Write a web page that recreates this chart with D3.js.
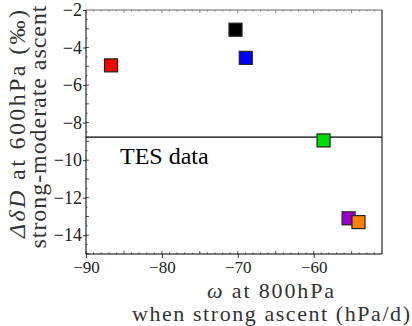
<!DOCTYPE html>
<html>
<head>
<meta charset="utf-8">
<script src="https://cdn.jsdelivr.net/npm/d3@7"></script>
<style>
  body { margin: 0; background: #fff; }
  svg text { font-family: "Liberation Serif", "DejaVu Serif", serif; }
</style>
</head>
<body>
<svg id="chart" width="412" height="326"></svg>
<script>
// values
var omega = [-86.7, -70.3, -68.95, -58.7, -55.4, -54.1];
var deltaD = [-4.95, -3.05, -4.55, -8.95, -13.1, -13.3];
var colors = ["#ff0000", "#000000", "#0000ff", "#00dd00", "#9900cc", "#ff8000"];
var refLine = [-8.77];
var xTicks = [-90, -80, -70, -60];
var yTicks = [-2, -4, -6, -8, -10, -12, -14];

var margin = {left: 86, right: 30, top: 10, bottom: 72};
var width = 412, height = 326;
var serif = "'Liberation Serif', 'DejaVu Serif', serif";

var svg = d3.select("#chart");

var x = d3.scaleLinear().domain([-90, -51]).range([margin.left, width - margin.right]);
var y = d3.scaleLinear().domain([-15, -2]).range([height - margin.bottom, margin.top]);

var x0 = x.range()[0], x1 = x.range()[1];
var y0 = y.range()[0], y1 = y.range()[1];

// tiny ticks along the frame
var g = svg.append("g");
d3.range(-90, -51, 1).forEach(function(v) {
	var len = (v % 5 == 0) ? 3 : 1.5;
	g.append("line").attr("x1", x(v)).attr("x2", x(v)).attr("y1", y0).attr("y2", y0 - len).attr("stroke", "#555");
	g.append("line").attr("x1", x(v)).attr("x2", x(v)).attr("y1", y1).attr("y2", y1 + len).attr("stroke", "#888");
});
d3.range(-15, -2, 0.5).forEach(function(v) {
	var len = (v % 1 == 0) ? 3 : 1.5;
	g.append("line").attr("y1", y(v)).attr("y2", y(v)).attr("x1", x0).attr("x2", x0 + len).attr("stroke", "#555");
});

// axes
var xAxis = d3.axisBottom(x).tickValues(xTicks).tickSize(4)
	.tickFormat(function(d) { return "\u2212" + Math.abs(d); });
var yAxis = d3.axisLeft(y).tickValues(yTicks).tickSize(3)
	.tickFormat(function(d) { return "\u2212" + Math.abs(d); });

var gx = svg.append("g").attr("transform", "translate(0," + y0 + ")").call(xAxis)
	.attr("font-family", serif);
gx.select(".domain").remove();
gx.selectAll("line").attr("stroke", "#333");
gx.selectAll("text").attr("y", 6).attr("dy", "0.75em")
	.style("font-family", serif).style("font-size", "17px").style("fill", "#222");

var gy = svg.append("g").attr("transform", "translate(" + x0 + ",0)").call(yAxis)
	.attr("font-family", serif);
gy.select(".domain").remove();
gy.selectAll("line").attr("stroke", "#333");
gy.selectAll("text").attr("x", -4)
	.style("font-family", serif).style("font-size", "18px").style("fill", "#222");

// frame
svg.append("line").attr("x1", x0).attr("x2", x0).attr("y1", y0).attr("y2", y1).attr("stroke", "#000");
svg.append("line").attr("x1", x0).attr("x2", x1).attr("y1", y0).attr("y2", y0).attr("stroke", "#000");
svg.append("line").attr("x1", x1).attr("x2", x1).attr("y1", y0).attr("y2", y1).attr("stroke", "#000");
svg.append("line").attr("x1", x0).attr("x2", x1).attr("y1", y1).attr("y2", y1).attr("stroke", "#666");

// reference line
svg.selectAll(".ref").data(refLine).enter().append("line")
	.attr("x1", x0).attr("x2", x1)
	.attr("y1", function(d) { return y(d); }).attr("y2", function(d) { return y(d); })
	.attr("stroke", "#000").attr("stroke-width", 1.2);

svg.append("text").attr("x", 120).attr("y", 164)
	.style("font-size", "24px").text("TES data");

// markers
var s = 13;
svg.selectAll(".pt").data(omega).enter().append("rect")
	.attr("x", function(d) { return x(d) - s / 2; })
	.attr("y", function(d, i) { return y(deltaD[i]) - s / 2; })
	.attr("width", s).attr("height", s)
	.attr("fill", function(d, i) { return colors[i]; })
	.attr("stroke", "#222").attr("stroke-width", 1.2);

// axis titles
var yt = svg.append("text").attr("transform", "translate(25,124) rotate(-90)")
	.attr("text-anchor", "middle").attr("textLength", 228).attr("lengthAdjust", "spacing")
	.style("font-size", "24px").style("fill", "#333");
yt.append("tspan").style("font-style", "italic").text("\u0394\u03b4D");
yt.append("tspan").text(" at 600hPa (\u2030)");

svg.append("text").attr("transform", "translate(46,127) rotate(-90)")
	.attr("text-anchor", "middle").attr("textLength", 243).attr("lengthAdjust", "spacing")
	.style("font-size", "24px").style("fill", "#333")
	.text("strong-moderate ascent");

var xt = svg.append("text").attr("x", 270.5).attr("y", 298)
	.attr("text-anchor", "middle").attr("textLength", 127).attr("lengthAdjust", "spacing")
	.style("font-size", "22px").style("fill", "#333");
xt.append("tspan").style("font-style", "italic").text("\u03c9");
xt.append("tspan").text(" at 800hPa");

svg.append("text").attr("x", 271).attr("y", 321)
	.attr("text-anchor", "middle").attr("textLength", 278).attr("lengthAdjust", "spacing")
	.style("font-size", "22px").style("fill", "#333")
	.text("when strong ascent (hPa/d)");
</script>
</body>
</html>
